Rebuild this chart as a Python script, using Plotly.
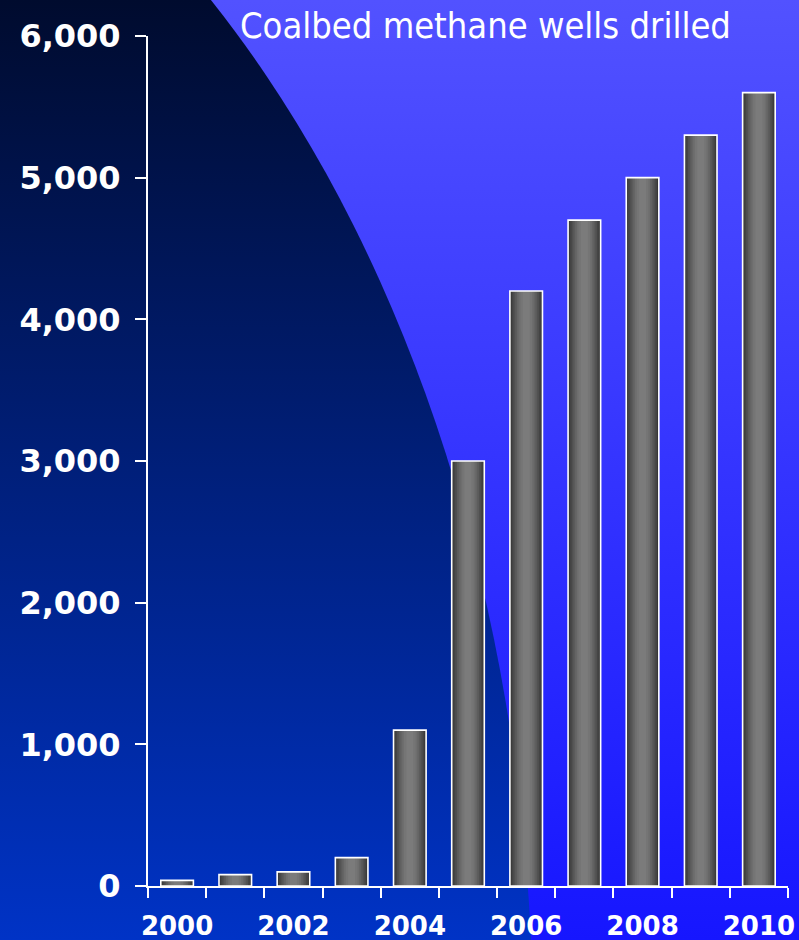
import base64
import plotly.graph_objects as go

# ---- data ----
years = [2000, 2001, 2002, 2003, 2004, 2005, 2006, 2007, 2008, 2009, 2010]
wells = [40, 80, 100, 200, 1100, 3000, 4200, 4700, 5000, 5300, 5600]
year_labels = ["2000", "2002", "2004", "2006", "2008", "2010"]
year_label_vals = [2000, 2002, 2004, 2006, 2008, 2010]
y_ticks = [0, 1000, 2000, 3000, 4000, 5000, 6000]
title_text = "Coalbed methane wells drilled"

W, H = 799, 940
L, R, T, B = 148, 11, 36, 54

# background: light blue-violet gradient with a dark navy elliptical sweep on the left
svg = f'''<svg xmlns="http://www.w3.org/2000/svg" width="{W}" height="{H}" viewBox="0 0 {W} {H}" preserveAspectRatio="none">
<defs>
<linearGradient id="l" gradientUnits="userSpaceOnUse" x1="0" y1="0" x2="0" y2="{H}">
<stop offset="0" stop-color="#5252ff"/><stop offset="1" stop-color="#1616ff"/></linearGradient>
<linearGradient id="d" gradientUnits="userSpaceOnUse" x1="0" y1="0" x2="0" y2="{H}">
<stop offset="0" stop-color="#000b2e"/><stop offset="1" stop-color="#0033c6"/></linearGradient>
</defs>
<rect x="0" y="0" width="{W}" height="{H}" fill="url(#l)"/>
<ellipse cx="-378" cy="1030" rx="911" ry="1350" fill="url(#d)"/>
</svg>'''
src = "data:image/svg+xml;base64," + base64.b64encode(svg.encode()).decode()

pw, ph = W - L - R, H - T - B

fig = go.Figure()

# cylinder-like shading via overlaid bars of decreasing width
layers = [
    (0.56, "#383838"), (0.50, "#444444"), (0.44, "#505050"), (0.38, "#5b5b5b"),
    (0.32, "#656565"), (0.26, "#6e6e6e"), (0.20, "#757575"), (0.12, "#7b7b7b"),
]
for w, c in layers:
    fig.add_trace(go.Bar(x=years, y=wells, width=w, marker=dict(color=c, line=dict(width=0)),
                         showlegend=False, hoverinfo="skip"))
fig.add_trace(go.Bar(x=years, y=wells, width=0.56,
                     marker=dict(color="rgba(0,0,0,0)", line=dict(color="white", width=1.6)),
                     showlegend=False, hovertemplate="%{x}: %{y:,}<extra></extra>"))

fig.update_layout(
    width=W, height=H,
    margin=dict(l=L, r=R, t=T, b=B, pad=0, autoexpand=False),
    barmode="overlay",
    paper_bgcolor="#1616ff",
    plot_bgcolor="rgba(0,0,0,0)",
    images=[dict(source=src, xref="paper", yref="paper",
                 x=-L / pw, y=1 + T / ph, sizex=W / pw, sizey=H / ph,
                 xanchor="left", yanchor="top", sizing="stretch", layer="below")],
    xaxis=dict(
        range=[1999.5, 2010.5], showgrid=False, zeroline=False, automargin=False,
        showline=True, linecolor="white", linewidth=2,
        tickmode="array", tickvals=year_label_vals, ticktext=year_labels,
        ticks="", ticklabelstandoff=16,
        tickfont=dict(family="DejaVu Sans", size=26, color="white", weight="bold"),
        minor=dict(tickmode="array", tickvals=[y - 0.5 for y in years] + [2010.5],
                   ticks="outside", ticklen=10, tickwidth=2, tickcolor="white", showgrid=False),
    ),
    yaxis=dict(
        range=[0, 6000], showgrid=False, zeroline=False, automargin=False,
        showline=True, linecolor="white", linewidth=2,
        tickmode="array", tickvals=y_ticks, tickformat=",d",
        ticks="outside", ticklen=11, tickwidth=2, tickcolor="white",
        ticklabelstandoff=8,
        tickfont=dict(family="DejaVu Sans", size=32, color="white", weight="bold"),
    ),
    annotations=[dict(text=title_text, xref="paper", yref="paper",
                      x=(238 - L) / pw, y=1 + (36 - 25) / ph, xanchor="left", yanchor="middle",
                      showarrow=False,
                      font=dict(family="DejaVu Sans Condensed, Liberation Sans, sans-serif",
                                size=36, color="white"))],
)

fig.write_html("out.html", config={"displayModeBar": False},
               post_script="document.body.style.margin='0';document.body.style.overflow='hidden';")
